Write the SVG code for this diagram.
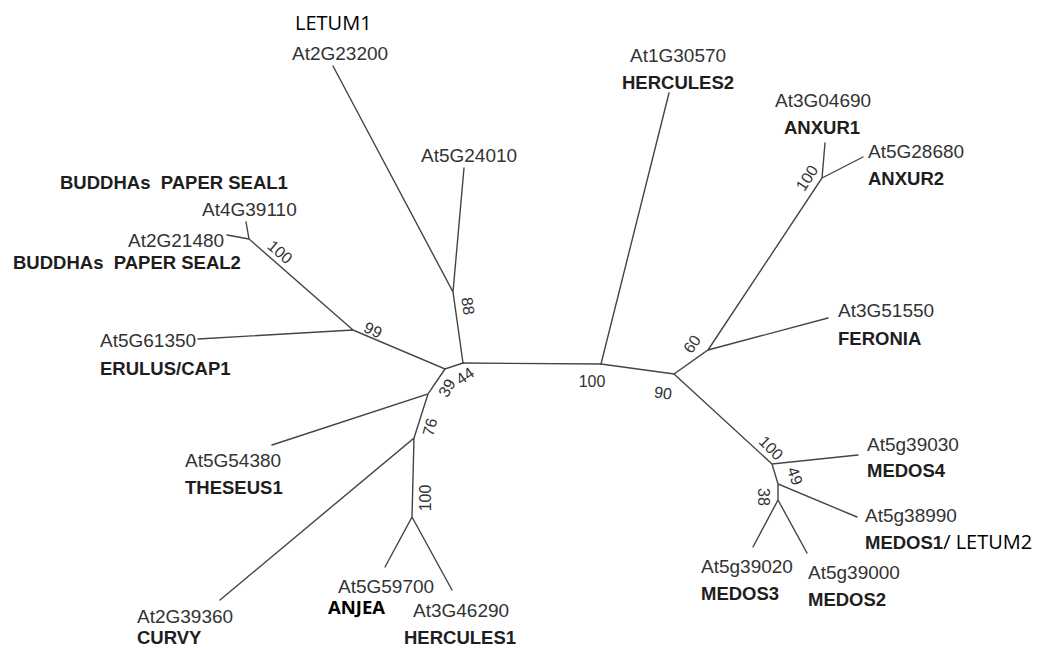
<svg xmlns="http://www.w3.org/2000/svg" width="1038" height="648" viewBox="0 0 1038 648">
<style>
.e{stroke:#444;stroke-width:1.4;fill:none;stroke-linecap:round}
.id{font-family:"Liberation Sans",Arial,sans-serif;font-size:19px;fill:#333}
.nm{font-family:"Liberation Sans",Arial,sans-serif;font-size:18.5px;font-weight:bold;fill:#1e1e1e;white-space:pre}
.ad{font-family:"Open Sans","Liberation Sans",sans-serif;font-size:20px;fill:#000}
.adb{font-family:"Open Sans","Liberation Sans",sans-serif;font-size:18.5px;font-weight:bold;fill:#000}
.bs{font-family:"Liberation Sans",Arial,sans-serif;font-size:16px;fill:#333;text-anchor:middle;dominant-baseline:central}
</style>
<rect width="1038" height="648" fill="#fff"/>
<g id="connectors">
<path class="e" d="M463,363 L453,292 L333,66 M453,292 L464,168"/>
<path class="e" d="M463,363 L601,364"/>
<path class="e" d="M463,363 L445,369 L353,330 L198,339 M353,330 L249,239 L246,222 M249,239 L227,235"/>
<path class="e" d="M445,369 L428,394 L272,445 M428,394 L414,438 L220,600 M414,438 L412,517 L385,567 M412,517 L452,590"/>
<path class="e" d="M601,364 L669,93 M601,364 L674,374 L708,350 L828,318 M708,350 L822,178 L825,143 M822,178 L863,157"/>
<path class="e" d="M674,374 L772,464 L858,455 M772,464 L778,484 L857,517 M778,484 L778,500 L753,547 M778,500 L807,553"/>
</g>
<g id="bootstrap">
<text class="bs" transform="translate(280,252) rotate(41)">100</text>
<text class="bs" transform="translate(468,306) rotate(82)">88</text>
<text class="bs" transform="translate(373,330) rotate(25)">99</text>
<text class="bs" transform="translate(447,388) rotate(-60)">39</text>
<text class="bs" transform="translate(465,376) rotate(-35)">44</text>
<text class="bs" transform="translate(430,427) rotate(-75)">76</text>
<text class="bs" transform="translate(425,498) rotate(-90)">100</text>
<text class="bs" transform="translate(592,381)">100</text>
<text class="bs" transform="translate(663,393) rotate(8)">90</text>
<text class="bs" transform="translate(692,344) rotate(-55)">60</text>
<text class="bs" transform="translate(807,178) rotate(-57)">100</text>
<text class="bs" transform="translate(771,448) rotate(45)">100</text>
<text class="bs" transform="translate(795,476) rotate(70)">49</text>
<text class="bs" transform="translate(763,497) rotate(90)">38</text>
</g>
<g id="leaf-At2G23200"><text class="ad" x="295" y="30">LETUM1</text><text class="id" x="292" y="60">At2G23200</text></g>
<g id="leaf-At5G24010"><text class="id" x="421" y="162">At5G24010</text></g>
<g id="leaf-At4G39110"><text class="nm" x="60" y="189" xml:space="preserve">BUDDHAs  PAPER SEAL1</text><text class="id" x="202" y="216">At4G39110</text></g>
<g id="leaf-At2G21480"><text class="id" x="128" y="247">At2G21480</text><text class="nm" x="13" y="269" xml:space="preserve">BUDDHAs  PAPER SEAL2</text></g>
<g id="leaf-At5G61350"><text class="id" x="100" y="347">At5G61350</text><text class="nm" x="100" y="375">ERULUS/CAP1</text></g>
<g id="leaf-At5G54380"><text class="id" x="185" y="467">At5G54380</text><text class="nm" x="185" y="494">THESEUS1</text></g>
<g id="leaf-At2G39360"><text class="id" x="137" y="623">At2G39360</text><text class="nm" x="137" y="644">CURVY</text></g>
<g id="leaf-At5G59700"><text class="id" x="338" y="593">At5G59700</text><text class="adb" x="328" y="614">ANJEA</text></g>
<g id="leaf-At3G46290"><text class="id" x="413" y="617">At3G46290</text><text class="nm" x="404" y="644">HERCULES1</text></g>
<g id="leaf-At1G30570"><text class="id" x="630" y="62">At1G30570</text><text class="nm" x="622" y="89">HERCULES2</text></g>
<g id="leaf-At3G04690"><text class="id" x="775" y="107">At3G04690</text><text class="nm" x="784" y="134">ANXUR1</text></g>
<g id="leaf-At5G28680"><text class="id" x="868" y="158">At5G28680</text><text class="nm" x="868" y="185">ANXUR2</text></g>
<g id="leaf-At3G51550"><text class="id" x="838" y="317">At3G51550</text><text class="nm" x="838" y="345">FERONIA</text></g>
<g id="leaf-At5g39030"><text class="id" x="867" y="451">At5g39030</text><text class="nm" x="867" y="477">MEDOS4</text></g>
<g id="leaf-At5g38990"><text class="id" x="865" y="522">At5g38990</text><text x="865" y="549"><tspan class="nm">MEDOS1</tspan><tspan class="ad">/ LETUM2</tspan></text></g>
<g id="leaf-At5g39020"><text class="id" x="701" y="573">At5g39020</text><text class="nm" x="701" y="600">MEDOS3</text></g>
<g id="leaf-At5g39000"><text class="id" x="808" y="579">At5g39000</text><text class="nm" x="808" y="606">MEDOS2</text></g>
</svg>
